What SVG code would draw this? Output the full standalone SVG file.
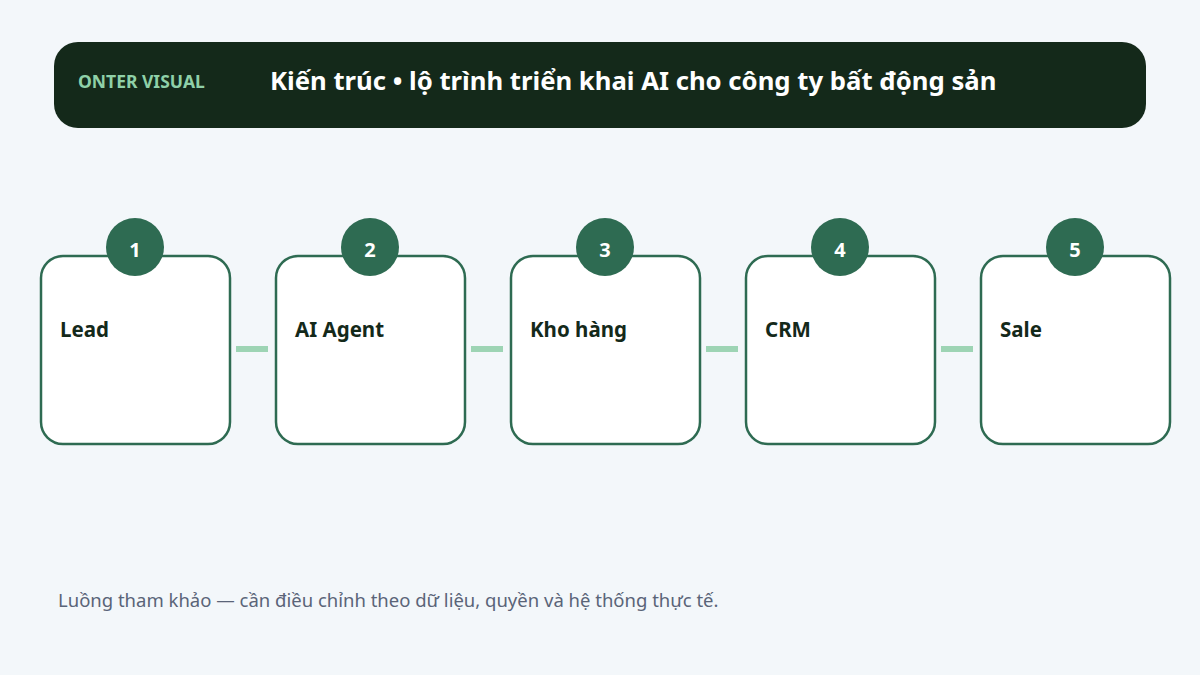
<svg xmlns="http://www.w3.org/2000/svg" width="1200" height="675" viewBox="0 0 1200 675">
<style>
text{font-family:"Noto Sans","Open Sans","Liberation Sans",sans-serif}
.box{fill:#ffffff;stroke:#2e6b52;stroke-width:2.5}
.badge{fill:#2e6b52}
.num{fill:#ffffff;font-size:20px;font-weight:700;text-anchor:middle}
.lbl{fill:#14291a;font-size:20.5px;font-weight:700}
.conn{fill:#9dd4b4}
</style>
<rect width="1200" height="675" fill="#f3f7fa"/>
<g id="header">
<rect x="54" y="42" width="1092" height="86" rx="24" fill="#14291a"/>
<text x="78" y="88" font-size="17.5" font-weight="700" fill="#8fd0a8">ONTER VISUAL</text>
<text x="270" y="90" font-size="25.7" font-weight="700" fill="#ffffff">Kiến trúc • lộ trình triển khai AI cho công ty bất động sản</text>
</g>
<g id="connectors">
<rect class="conn" x="236" y="346" width="32" height="6"/>
<rect class="conn" x="471" y="346" width="32" height="6"/>
<rect class="conn" x="706" y="346" width="32" height="6"/>
<rect class="conn" x="941" y="346" width="32" height="6"/>
</g>
<g id="node1">
<rect class="box" x="41" y="256" width="189" height="188" rx="22"/>
<circle class="badge" cx="135" cy="247" r="29"/>
<text class="num" x="135" y="257">1</text>
<text class="lbl" x="60" y="337">Lead</text>
</g>
<g id="node2">
<rect class="box" x="276" y="256" width="189" height="188" rx="22"/>
<circle class="badge" cx="370" cy="247" r="29"/>
<text class="num" x="370" y="257">2</text>
<text class="lbl" x="295" y="337">AI Agent</text>
</g>
<g id="node3">
<rect class="box" x="511" y="256" width="189" height="188" rx="22"/>
<circle class="badge" cx="605" cy="247" r="29"/>
<text class="num" x="605" y="257">3</text>
<text class="lbl" x="530" y="337">Kho hàng</text>
</g>
<g id="node4">
<rect class="box" x="746" y="256" width="189" height="188" rx="22"/>
<circle class="badge" cx="840" cy="247" r="29"/>
<text class="num" x="840" y="257">4</text>
<text class="lbl" x="765" y="337">CRM</text>
</g>
<g id="node5">
<rect class="box" x="981" y="256" width="189" height="188" rx="22"/>
<circle class="badge" cx="1075" cy="247" r="29"/>
<text class="num" x="1075" y="257">5</text>
<text class="lbl" x="1000" y="337">Sale</text>
</g>
<text x="58" y="607" font-size="18.5" fill="#5a6478">Luồng tham khảo — cần điều chỉnh theo dữ liệu, quyền và hệ thống thực tế.</text>
</svg>
